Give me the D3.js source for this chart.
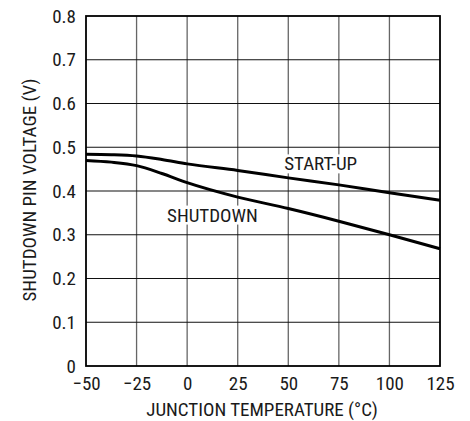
<!DOCTYPE html>
<html><head><meta charset="utf-8">
<script src="https://cdn.jsdelivr.net/npm/d3@7"></script>
<style>
html,body{margin:0;padding:0;background:#fff;}
text{font-family:"Roboto Condensed","Liberation Sans Narrow",Arial,sans-serif;fill:#1a1a1a;}
</style></head>
<body><svg id="c" width="470" height="421"></svg>
<script>
const temps = [-50, -37.5, -25, -12.5, 0, 25, 50, 75, 100, 125];
const startUp = [0.484, 0.483, 0.480, 0.472, 0.462, 0.447, 0.430, 0.414, 0.396, 0.379];
const shutdown = [0.470, 0.466, 0.458, 0.440, 0.419, 0.386, 0.360, 0.331, 0.300, 0.268];
const xTicks = [-50, -25, 0, 25, 50, 75, 100, 125];
const yTicks = [0, 0.1, 0.2, 0.3, 0.4, 0.5, 0.6, 0.7, 0.8];
const labels = [{text:"START-UP", t:66, v:0.462}, {text:"SHUTDOWN", t:12.5, v:0.345}];

const svg = d3.select("#c");
const L=86, R=440, T=16, B=366;
const FS = 19;
const x = d3.scaleLinear().domain([-50,125]).range([L,R]);
const y = d3.scaleLinear().domain([0,0.8]).range([B,T]);

// grid
svg.append("g").selectAll("line").data(xTicks.slice(1,-1)).join("line")
  .attr("x1",d=>x(d)).attr("x2",d=>x(d)).attr("y1",T).attr("y2",B)
  .attr("stroke","#666").attr("stroke-width",1.3);
svg.append("g").selectAll("line").data(yTicks.slice(1,-1)).join("line")
  .attr("x1",L).attr("x2",R).attr("y1",d=>y(d)).attr("y2",d=>y(d))
  .attr("stroke","#111").attr("stroke-width",1.1);

// labels with white backgrounds
const lg = svg.append("g");
labels.forEach(l=>{
  const t = lg.append("text").attr("x",x(l.t)).attr("y",y(l.v)).attr("text-anchor","middle")
    .attr("dominant-baseline","central").attr("font-size",FS).text(l.text);
  const bb = t.node().getBBox();
  lg.insert("rect","text").attr("x",bb.x-2).attr("y",bb.y+2).attr("width",bb.width+4).attr("height",bb.height-4).attr("fill","#fff");
});

// curves
const line = d3.line().x((d,i)=>x(temps[i])).y(d=>y(d)).curve(d3.curveMonotoneX);
[startUp, shutdown].forEach(s=>{
  svg.append("path").attr("d",line(s)).attr("fill","none").attr("stroke","#000").attr("stroke-width",3);
});

// frame
svg.append("rect").attr("x",L).attr("y",T).attr("width",R-L).attr("height",B-T)
  .attr("fill","none").attr("stroke","#000").attr("stroke-width",1.8);

// axes
const xa = svg.append("g").attr("transform",`translate(0,${B})`)
  .call(d3.axisBottom(x).tickValues(xTicks).tickSize(0).tickPadding(11).tickFormat(d=>d<0?"\u2212"+Math.abs(d):d));
const ya = svg.append("g").attr("transform",`translate(${L},0)`)
  .call(d3.axisLeft(y).tickValues(yTicks).tickSize(0).tickPadding(10).tickFormat(d=>d===0?"0":d3.format(".1f")(d)));
[xa,ya].forEach(a=>{a.select(".domain").remove(); a.selectAll("text").attr("font-size",FS).attr("fill","#1a1a1a").attr("font-family",null);});

svg.append("text").attr("x",(L+R)/2 - 1).attr("y",416).attr("text-anchor","middle").attr("font-size",FS).text("JUNCTION TEMPERATURE (°C)");
svg.append("text").attr("transform",`translate(36,${190}) rotate(-90)`).attr("text-anchor","middle").attr("font-size",FS).text("SHUTDOWN PIN VOLTAGE (V)");
</script></body></html>
